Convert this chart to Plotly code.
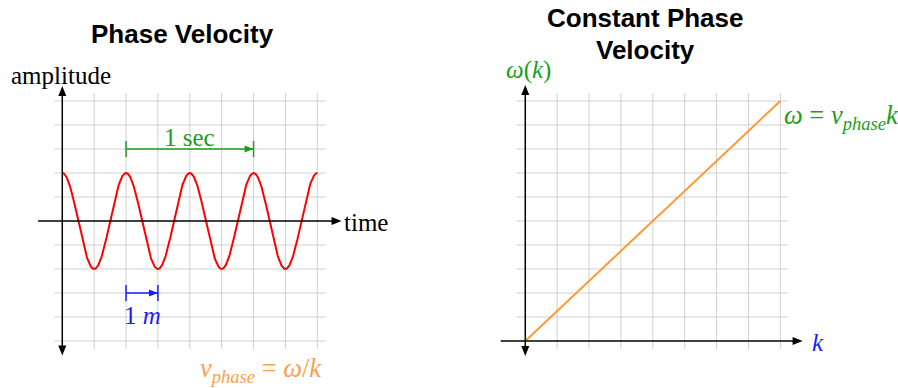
import numpy as np
import plotly.graph_objects as go

# ---------------- data ----------------
# left panel: travelling wave
wave_amplitude = 2.0
wave_period = 2.0
wave_t_start, wave_t_end = 0.0, 8.0
left_grid_x = [1, 2, 3, 4, 5, 6, 7, 8]
left_grid_y = [-5, -4, -3, -2, -1, 1, 2, 3, 4, 5]
sec_span = [2, 6]      # "1 sec" bracket
sec_level = 3
m_span = [2, 3]        # "1 m" bracket
m_level = -3

# right panel: dispersion relation
k_vals = [0, 8]
omega_vals = [0, 10]
right_grid_x = [1, 2, 3, 4, 5, 6, 7, 8]
right_grid_y = [1, 2, 3, 4, 5, 6, 7, 8, 9, 10]

# ---------------- styles ----------------
GRID = "#d0d0d0"
RED = "#ff0000"
ORANGE = "#ff9933"
ORANGE_TXT = "#fba04e"
GREEN = "#1aa01a"
BLUE = "#1a1aff"
SERIF = "Liberation Serif"
SANS = "Liberation Sans"

W, H = 898, 388
fig = go.Figure()
shapes = []


def seg_trace(xs, ys, xref, yref, color, width):
    fig.add_trace(go.Scatter(x=xs, y=ys, mode="lines", xaxis=xref, yaxis=yref,
                             line=dict(color=color, width=width), hoverinfo="skip",
                             showlegend=False))


def grid_traces(xs, ys, xlim, ylim, xref, yref):
    gx, gy = [], []
    for v in xs:
        gx += [v, v, None]
        gy += [ylim[0], ylim[1], None]
    for v in ys:
        gx += [xlim[0], xlim[1], None]
        gy += [v, v, None]
    seg_trace(gx, gy, xref, yref, GRID, 1)


def head(x, y, xref, yref, direction, color, length, half):
    if direction == "right":
        path = f"M0,0 L{-length},{half} L{-length},{-half} Z"
    elif direction == "up":
        path = f"M0,0 L{-half},{-length} L{half},{-length} Z"
    else:  # down
        path = f"M0,0 L{-half},{length} L{half},{length} Z"
    shapes.append(dict(type="path", xref=xref, yref=yref, xsizemode="pixel",
                       ysizemode="pixel", xanchor=x, yanchor=y, path=path,
                       fillcolor=color, line=dict(width=0), layer="above"))


grid_traces(left_grid_x, left_grid_y, (-0.25, 8.25), (-5.33, 5.33), "x", "y")
grid_traces(right_grid_x, right_grid_y, (-0.27, 8.23), (-0.33, 10.33), "x2", "y2")

# wave
t = np.linspace(wave_t_start, wave_t_end, 600)
yw = wave_amplitude * np.cos(2 * np.pi * t / wave_period)
fig.add_trace(go.Scatter(x=t, y=yw, mode="lines", xaxis="x", yaxis="y",
                         line=dict(color=RED, width=2), showlegend=False))

# dispersion line
fig.add_trace(go.Scatter(x=k_vals, y=omega_vals, mode="lines", xaxis="x2", yaxis="y2",
                         line=dict(color=ORANGE, width=2), showlegend=False))

# axes with arrowheads
seg_trace([0, 0], [-5.35, 5.4], "x", "y", "black", 1.5)
head(0, 5.62, "x", "y", "up", "black", 10, 4)
head(0, -5.6, "x", "y", "down", "black", 10, 4)
seg_trace([-0.76, 8.5], [0, 0], "x", "y", "black", 1.5)
head(8.76, 0, "x", "y", "right", "black", 10, 4)

seg_trace([0, 0], [-0.4, 10.45], "x2", "y2", "black", 1.5)
head(0, 10.67, "x2", "y2", "up", "black", 10, 4)
head(0, -0.62, "x2", "y2", "down", "black", 10, 4)
seg_trace([-0.77, 8.45], [0, 0], "x2", "y2", "black", 1.5)
head(8.7, 0, "x2", "y2", "right", "black", 10, 4)

# brackets: shaft, caps, arrowhead
for span, lvl, col in [(sec_span, sec_level, GREEN), (m_span, m_level, BLUE)]:
    cx, cy = [span[0], span[1], None], [lvl, lvl, None]
    for v in span:
        cx += [v, v, None]
        cy += [lvl - 0.33, lvl + 0.33, None]
    seg_trace(cx, cy, "x", "y", col, 1.5)
    head(span[1], lvl, "x", "y", "right", col, 9, 3.5)

annotations = []


def label(text, x, y, xref, yref, color, size, family=SERIF, xanchor="center"):
    annotations.append(dict(text=text, x=x, y=y, xref=xref, yref=yref,
                            showarrow=False, xanchor=xanchor, yanchor="middle",
                            font=dict(family=family, size=size, color=color)))


label("<b>Phase Velocity</b>", 182.5 / W, 1 - 34 / H, "paper", "paper", "black", 26, SANS)
label("<b>Constant Phase</b>", 645 / W, 1 - 18 / H, "paper", "paper", "black", 26, SANS)
label("<b>Velocity</b>", 645 / W, 1 - 50 / H, "paper", "paper", "black", 26, SANS)

label("amplitude", -0.03, 6.08, "x", "y", "black", 25)
label("time", 8.78, -0.08, "x", "y", "black", 25, xanchor="left")
label("1 sec", 4.0, 3.46, "x", "y", GREEN, 25)
label("1 <i>m</i>", 2.53, -3.92, "x", "y", BLUE, 25)
label("<i>v</i><sub><i>phase</i></sub> = <i>ω</i>/<i>k</i>", 8.2, -6.2, "x", "y",
      ORANGE_TXT, 26.5, xanchor="right")

label("<i>ω</i>(<i>k</i>)", 0.09, 11.3, "x2", "y2", GREEN, 25)
label("<i>ω</i> = <i>v</i><sub><i>phase</i></sub><i>k</i>", 8.04, 9.33, "x2", "y2",
      GREEN, 26.5, xanchor="left")
label("<i>k</i>", 8.93, -0.08, "x2", "y2", BLUE, 25, xanchor="left")

ax_common = dict(visible=False, fixedrange=True, showgrid=False, zeroline=False)
# pixel mapping: left x -> 62.3 + 31.875*x, left y -> 221 - 24*y
#                right x -> 525.3 + 31.875*x, right y -> 341 - 24*y
fig.update_layout(
    width=W, height=H, margin=dict(l=0, r=0, t=0, b=0),
    paper_bgcolor="white", plot_bgcolor="white", showlegend=False,
    xaxis=dict(domain=[30.4 / W, 349.2 / W], range=[-1, 9], anchor="y", **ax_common),
    yaxis=dict(domain=[1.4 / H, 335 / H], range=[-6.9, 7], anchor="x", **ax_common),
    xaxis2=dict(domain=[493.4 / W, 812.2 / W], range=[-1, 9], anchor="y2", **ax_common),
    yaxis2=dict(domain=[1.4 / H, 335 / H], range=[-1.9, 12], anchor="x2", **ax_common),
    annotations=annotations,
    shapes=shapes,
)

fig.write_html("out.html", config={"displayModeBar": False},
               post_script="document.body.style.margin='0';document.body.style.overflow='hidden';")
